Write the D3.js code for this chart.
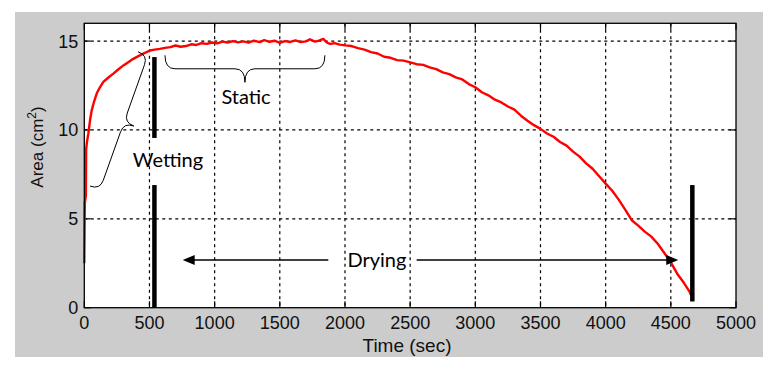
<!DOCTYPE html>
<html>
<head>
<meta charset="utf-8">
<script src="https://cdn.jsdelivr.net/npm/d3@7"></script>
<style>
	body { margin: 0; background: #fff; }
	svg { display: block; }
	.tick-label { font-family: 'Liberation Sans', Arial, sans-serif; font-size: 18px; fill: #111; }
	.note { font-family: Lato, 'Open Sans', sans-serif; font-size: 20px; fill: #000; }
</style>
</head>
<body>
<div id="chart"></div>
<script>
// time (sec) and spot area (cm^2)
var times = [0, 4, 12, 14, 20, 31, 45, 57, 75, 95, 120, 146, 185, 223, 260, 300, 340, 376, 415, 453,
	504, 540, 580, 620, 660, 700, 740, 780, 820, 860, 900, 940, 980, 1020, 1060, 1100, 1140, 1180,
	1220, 1260, 1300, 1347, 1380, 1420, 1460, 1500, 1540, 1580, 1620, 1660, 1700, 1731, 1770, 1800,
	1834, 1860, 1885, 1920, 1960, 2000, 2050, 2100, 2150, 2200, 2250, 2300, 2350, 2400, 2450, 2500,
	2550, 2600, 2650, 2700, 2750, 2800, 2850, 2900, 2950, 3000, 3050, 3100, 3150, 3200, 3250, 3300,
	3350, 3400, 3450, 3500, 3550, 3600, 3650, 3700, 3750, 3800, 3850, 3900, 3950, 4000, 4050, 4100,
	4150, 4200, 4250, 4300, 4350, 4400, 4450, 4500, 4550, 4600, 4640, 4662];
var areas = [2.5, 5.9, 6.3, 8.9, 9.3, 9.8, 10.6, 11.1, 11.6, 12.05, 12.4, 12.7, 12.95, 13.17, 13.4, 13.63, 13.82, 14.0, 14.15, 14.29,
	14.47, 14.52, 14.56, 14.62, 14.66, 14.75, 14.68, 14.72, 14.82, 14.78, 14.88, 14.84, 14.92, 14.87, 14.97, 14.92, 15.0, 14.93,
	14.98, 14.91, 15.02, 14.94, 15.05, 14.96, 15.02, 14.9, 15.0, 14.95, 15.04, 14.94, 14.98, 15.1, 14.97, 15.03,
	15.12, 14.92, 14.84, 14.88, 14.8, 14.76, 14.72, 14.6, 14.52, 14.38, 14.3, 14.12, 14.06, 13.93, 13.9, 13.8,
	13.7, 13.66, 13.52, 13.42, 13.24, 13.14, 12.96, 12.84, 12.58, 12.4, 12.12, 11.95, 11.7, 11.55, 11.32, 11.14,
	10.8, 10.52, 10.27, 10.06, 9.8, 9.62, 9.32, 9.12, 8.78, 8.5, 8.12, 7.82, 7.4, 6.98, 6.58, 6.08,
	5.52, 4.92, 4.62, 4.28, 4.0, 3.6, 3.08, 2.55, 1.9, 1.4, 0.95, 0.6];

var xTicks = [0, 500, 1000, 1500, 2000, 2500, 3000, 3500, 4000, 4500, 5000];
var yTicks = [0, 5, 10, 15];

var dataset = [];
times.forEach(function(t, i){
	dataset.push({ t: t, a: areas[i] });
});

//canvas
var width = 774,
	height = 369,
	margin = { top: 23.3, right: 38, bottom: 61.3, left: 84.3 };

var svg = d3.select('#chart').append('svg')
	.attr('width', width)
	.attr('height', height);

// matlab-grey figure background
svg.append('rect')
	.attr('x', 15).attr('y', 12)
	.attr('width', 748).attr('height', 345)
	.attr('fill', '#cccccc');

var x = d3.scaleLinear()
	.domain([0, 5000])
	.range([margin.left, width - margin.right]);
var y = d3.scaleLinear()
	.domain([0, 16])
	.range([height - margin.bottom, margin.top]);

var x0 = x.range()[0], x1 = x.range()[1],
	y0 = y.range()[0], y1 = y.range()[1];

svg.append('rect')
	.attr('x', x0).attr('y', y1)
	.attr('width', x1 - x0).attr('height', y0 - y1)
	.attr('fill', '#fff');

//grid
var grid = svg.append('g')
	.attr('stroke', '#000')
	.attr('stroke-width', 1.2)
	.attr('stroke-dasharray', '3,3.5');
grid.selectAll('.vg')
	.data(xTicks.slice(1, -1))
	.enter().append('line')
		.attr('x1', function(d){ return x(d); })
		.attr('x2', function(d){ return x(d); })
		.attr('y1', y1).attr('y2', y0);
grid.selectAll('.hg')
	.data(yTicks.slice(1))
	.enter().append('line')
		.attr('y1', function(d){ return y(d); })
		.attr('y2', function(d){ return y(d); })
		.attr('x1', x0).attr('x2', x1);

//inward ticks on all four sides
var tickLen = 6.5;
var ticks = svg.append('g').attr('stroke', '#000').attr('stroke-width', 1.2);
xTicks.forEach(function(d){
	ticks.append('line').attr('x1', x(d)).attr('x2', x(d)).attr('y1', y0).attr('y2', y0 - tickLen);
	ticks.append('line').attr('x1', x(d)).attr('x2', x(d)).attr('y1', y1).attr('y2', y1 + tickLen);
});
yTicks.forEach(function(d){
	ticks.append('line').attr('y1', y(d)).attr('y2', y(d)).attr('x1', x0).attr('x2', x0 + tickLen);
	ticks.append('line').attr('y1', y(d)).attr('y2', y(d)).attr('x1', x1).attr('x2', x1 - tickLen);
});

//tick labels
svg.selectAll('.xl')
	.data(xTicks)
	.enter().append('text')
		.attr('class', 'tick-label')
		.attr('x', function(d){ return x(d); })
		.attr('y', y0 + 21.5)
		.attr('text-anchor', 'middle')
		.text(function(d){ return d; });
svg.selectAll('.yl')
	.data(yTicks)
	.enter().append('text')
		.attr('class', 'tick-label')
		.attr('x', x0 - 6)
		.attr('y', function(d){ return y(d); })
		.attr('dy', '0.36em')
		.attr('text-anchor', 'end')
		.text(function(d){ return d; });

//axis titles
svg.append('text')
	.attr('class', 'tick-label')
	.style('font-size', '19px')
	.attr('x', 407).attr('y', 352)
	.attr('text-anchor', 'middle')
	.text('Time (sec)');

var yt = svg.append('text')
	.attr('class', 'tick-label')
	.style('font-size', '17px')
	.attr('text-anchor', 'middle')
	.attr('transform', 'translate(43,147) rotate(-90)');
yt.append('tspan').text('Area (cm');
yt.append('tspan').style('font-size', '12px').attr('dy', -7).text('2');
yt.append('tspan').attr('dy', 7).text(')');

//the curve
var line = d3.line()
	.x(function(d){ return x(d.t); })
	.y(function(d){ return y(d.a); });

svg.append('path')
	.datum(dataset)
	.attr('d', line)
	.attr('fill', 'none')
	.attr('stroke', '#ff0000')
	.attr('stroke-width', 2.4)
	.attr('stroke-linejoin', 'round');

//plot box
svg.append('rect')
	.attr('x', x0).attr('y', y1)
	.attr('width', x1 - x0).attr('height', y0 - y1)
	.attr('fill', 'none')
	.attr('stroke', '#000')
	.attr('stroke-width', 1.3);

// annotations (data coords)
var bars = [
	{ t: 538, from: 9.55, to: 14.1 },
	{ t: 538, from: 0, to: 6.9 },
	{ t: 4665, from: 0.35, to: 6.9 }
];
svg.selectAll('.bar')
	.data(bars)
	.enter().append('line')
		.attr('x1', function(d){ return x(d.t); })
		.attr('x2', function(d){ return x(d.t); })
		.attr('y1', function(d){ return y(d.from); })
		.attr('y2', function(d){ return y(d.to); })
		.attr('stroke', '#000')
		.attr('stroke-width', 4.5);

// curly brace between two points, cusp on the right-hand side
function bracePath(p, q, d, r){
	var dx = q[0] - p[0], dy = q[1] - p[1],
		L = Math.sqrt(dx*dx + dy*dy),
		ux = dx / L, uy = dy / L,
		nx = -uy, ny = ux,
		h = d / 2;
	function pt(s, k){ return (p[0] + s*ux + k*nx) + ',' + (p[1] + s*uy + k*ny); }
	return 'M' + pt(0, 0) +
		'Q' + pt(0, h) + ' ' + pt(r, h) +
		'L' + pt(L/2 - r, h) +
		'Q' + pt(L/2, h) + ' ' + pt(L/2, d) +
		'Q' + pt(L/2, h) + ' ' + pt(L/2 + r, h) +
		'L' + pt(L - r, h) +
		'Q' + pt(L, h) + ' ' + pt(L, 0);
}
var braces = [
	{ a: [619, 14.2], b: [1846, 14.2], depth: 27, r: 10 },
	{ a: [44, 6.84], b: [412, 14.4], depth: 21, r: 10 }
];
svg.selectAll('.brace')
	.data(braces)
	.enter().append('path')
		.attr('d', function(d){
			return bracePath([x(d.a[0]), y(d.a[1])], [x(d.b[0]), y(d.b[1])], d.depth, d.r);
		})
		.attr('fill', 'none')
		.attr('stroke', '#000')
		.attr('stroke-width', 1);

//drying arrows
var arrows = [
	{ from: 1872, to: 755, v: 2.68 },
	{ from: 2550, to: 4557, v: 2.68 }
];
arrows.forEach(function(a){
	var dir = a.to > a.from ? 1 : -1,
		tip = x(a.to), yy = y(a.v);
	svg.append('line')
		.attr('x1', x(a.from)).attr('x2', tip - dir * 10)
		.attr('y1', yy).attr('y2', yy)
		.attr('stroke', '#000').attr('stroke-width', 1.5);
	svg.append('path')
		.attr('d', 'M' + tip + ',' + yy + 'L' + (tip - dir * 12) + ',' + (yy - 5) + 'L' + (tip - dir * 12) + ',' + (yy + 5) + 'Z')
		.attr('fill', '#000');
});

var notes = [
	{ text: 'Static', t: 1241, v: 11.48 },
	{ text: 'Wetting', t: 642, v: 7.9 },
	{ text: 'Drying', t: 2245, v: 2.29 }
];
svg.selectAll('.note')
	.data(notes)
	.enter().append('text')
		.attr('class', 'note')
		.attr('x', function(d){ return x(d.t); })
		.attr('y', function(d){ return y(d.v); })
		.attr('text-anchor', 'middle')
		.text(function(d){ return d.text; });
</script>
</body>
</html>
